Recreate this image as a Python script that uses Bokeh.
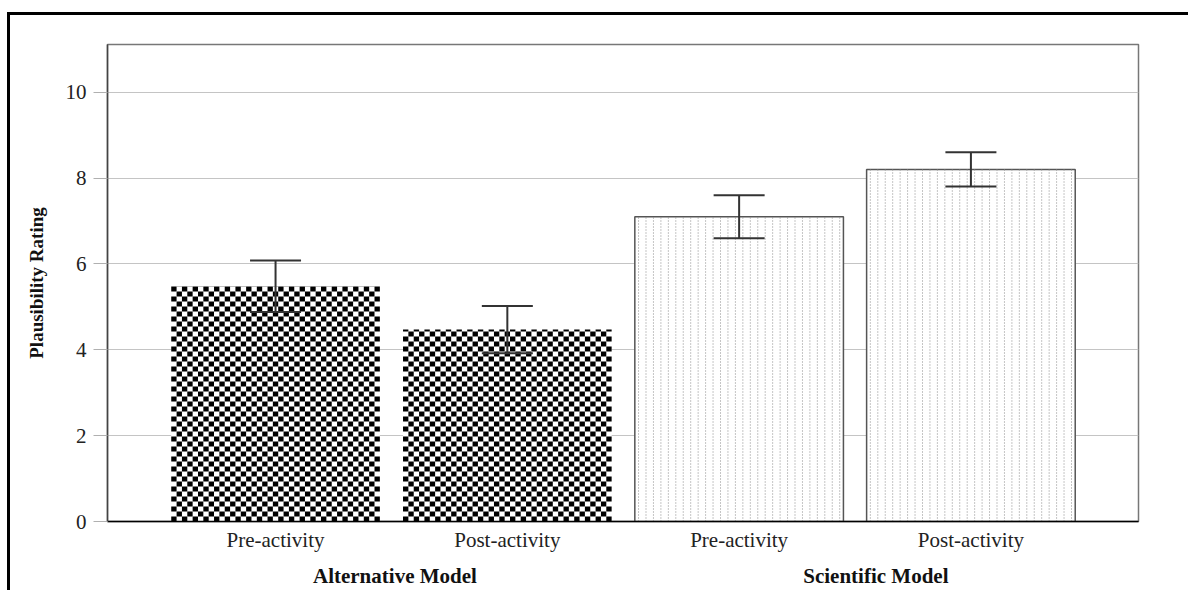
import numpy as np
from bokeh.plotting import figure
from bokeh.models import ColumnDataSource, FixedTicker, LinearAxis, Range1d, Whisker, TeeHead
from bokeh.embed import file_html
from bokeh.resources import INLINE

# ---- data ----
conditions = ["Pre-activity", "Post-activity", "Pre-activity", "Post-activity"]
models = ["Alternative Model", "Scientific Model"]
model_of_bar = [0, 0, 1, 1]
means = [5.48, 4.47, 7.10, 8.20]
errors = [0.60, 0.55, 0.50, 0.40]
y_ticks = [0, 2, 4, 6, 8, 10]
group_label_x = [0.515, 2.59]

# ---- layout / style ----
FONT = "Liberation Serif"
BAR_W = 0.9
W, H = 1188, 590
xpos = list(range(len(means)))

p = figure(width=W, height=H, x_range=Range1d(-0.725, 3.723), y_range=Range1d(0, 11.11),
           output_backend="svg", toolbar_location=None,
           min_border_left=107, min_border_top=44, min_border_right=50, min_border_bottom=66)
# page frame lines (top and left), drawn as CSS background behind a transparent border area
p.styles = {"background": "linear-gradient(#000,#000) 7px 12px / 3px 100% no-repeat, "
                          "linear-gradient(#000,#000) 7px 12px / 100% 3px no-repeat, #ffffff"}
p.border_fill_color = None
p.background_fill_color = "white"
p.outline_line_color = "#777777"
p.outline_line_width = 1.5
p.xgrid.visible = False
p.ygrid.ticker = FixedTicker(ticks=y_ticks)
p.ygrid.grid_line_color = "#c4c4c4"
p.ygrid.grid_line_width = 1

# bars: base fill
alt_x = [xpos[i] for i in range(4) if model_of_bar[i] == 0]
alt_top = [means[i] for i in range(4) if model_of_bar[i] == 0]
sci_x = [xpos[i] for i in range(4) if model_of_bar[i] == 1]
sci_top = [means[i] for i in range(4) if model_of_bar[i] == 1]

p.vbar(x=alt_x, top=alt_top, bottom=0, width=BAR_W, fill_color="white", line_color=None)
p.vbar(x=sci_x, top=sci_top, bottom=0, width=BAR_W, fill_color="white",
       line_color="#555555", line_width=1.5)

# checker texture for alternative-model bars
n_chk = 39
cw = BAR_W / n_chk
ev_x, ev_top, od_x, od_top = [], [], [], []
for xc, top in zip(alt_x, alt_top):
    left = xc - BAR_W / 2
    for i in range(n_chk):
        cx = left + cw * (i + 0.5)
        if i % 2 == 0:
            ev_x.append(cx); ev_top.append(top)
        else:
            od_x.append(cx); od_top.append(top)
p.segment(x0=ev_x, x1=ev_x, y0=0, y1=ev_top, line_color="black", line_width=5.35,
          line_dash="5 5", line_dash_offset=0, line_cap="butt")
p.segment(x0=od_x, x1=od_x, y0=0, y1=od_top, line_color="black", line_width=5.35,
          line_dash="5 5", line_dash_offset=5, line_cap="butt")

# dotted texture for scientific-model bars
n_dot = 28
dw = BAR_W / n_dot
dx, dtop = [], []
for xc, top in zip(sci_x, sci_top):
    left = xc - BAR_W / 2
    for i in range(n_dot):
        dx.append(left + dw * (i + 0.5)); dtop.append(top)
p.segment(x0=dx, x1=dx, y0=0, y1=dtop, line_color="#8a8a8a", line_width=1,
          line_dash="1 2", line_cap="butt")

# error bars
src = ColumnDataSource(dict(x=xpos,
                            upper=[m + e for m, e in zip(means, errors)],
                            lower=[m - e for m, e in zip(means, errors)]))
wh = Whisker(base="x", upper="upper", lower="lower", source=src, level="annotation",
             line_color="#333333", line_width=2,
             upper_head=TeeHead(size=51, line_color="#333333", line_width=2),
             lower_head=TeeHead(size=51, line_color="#333333", line_width=2))
p.add_layout(wh)

# x axis (conditions)
xa = p.xaxis[0]
xa.ticker = FixedTicker(ticks=xpos)
xa.major_label_overrides = {i: c for i, c in zip(xpos, conditions)}
xa.major_tick_line_color = None
xa.major_tick_out = 0
xa.major_tick_in = 0
xa.minor_tick_line_color = None
xa.axis_line_color = "black"
xa.axis_line_width = 1.5
xa.major_label_text_font = FONT
xa.major_label_text_font_size = "21px"
xa.major_label_text_color = "#222222"
xa.major_label_standoff = 6

# second x axis (model groups)
ga = LinearAxis(ticker=FixedTicker(ticks=group_label_x),
                major_label_overrides={gx: m for gx, m in zip(group_label_x, models)},
                axis_line_color=None, major_tick_line_color=None, minor_tick_line_color=None,
                major_tick_out=0, major_tick_in=0,
                major_label_text_font=FONT, major_label_text_font_size="21px",
                major_label_text_font_style="bold", major_label_text_color="#111111",
                major_label_standoff=9)
p.add_layout(ga, "below")

# y axis
ya = p.yaxis[0]
ya.ticker = FixedTicker(ticks=y_ticks)
ya.major_tick_out = 14
ya.major_tick_in = 0
ya.major_tick_line_color = "#b0b0b0"
ya.minor_tick_line_color = None
ya.axis_line_color = "#444444"
ya.axis_line_width = 1.5
ya.major_label_text_font = FONT
ya.major_label_text_font_size = "21px"
ya.major_label_text_color = "#222222"
ya.major_label_standoff = 7
ya.axis_label = "Plausibility Rating"
ya.axis_label_text_font = FONT
ya.axis_label_text_font_size = "19px"
ya.axis_label_text_font_style = "bold"
ya.axis_label_text_color = "#111111"
ya.axis_label_standoff = 16

open("out.html", "w").write(file_html(p, INLINE))
